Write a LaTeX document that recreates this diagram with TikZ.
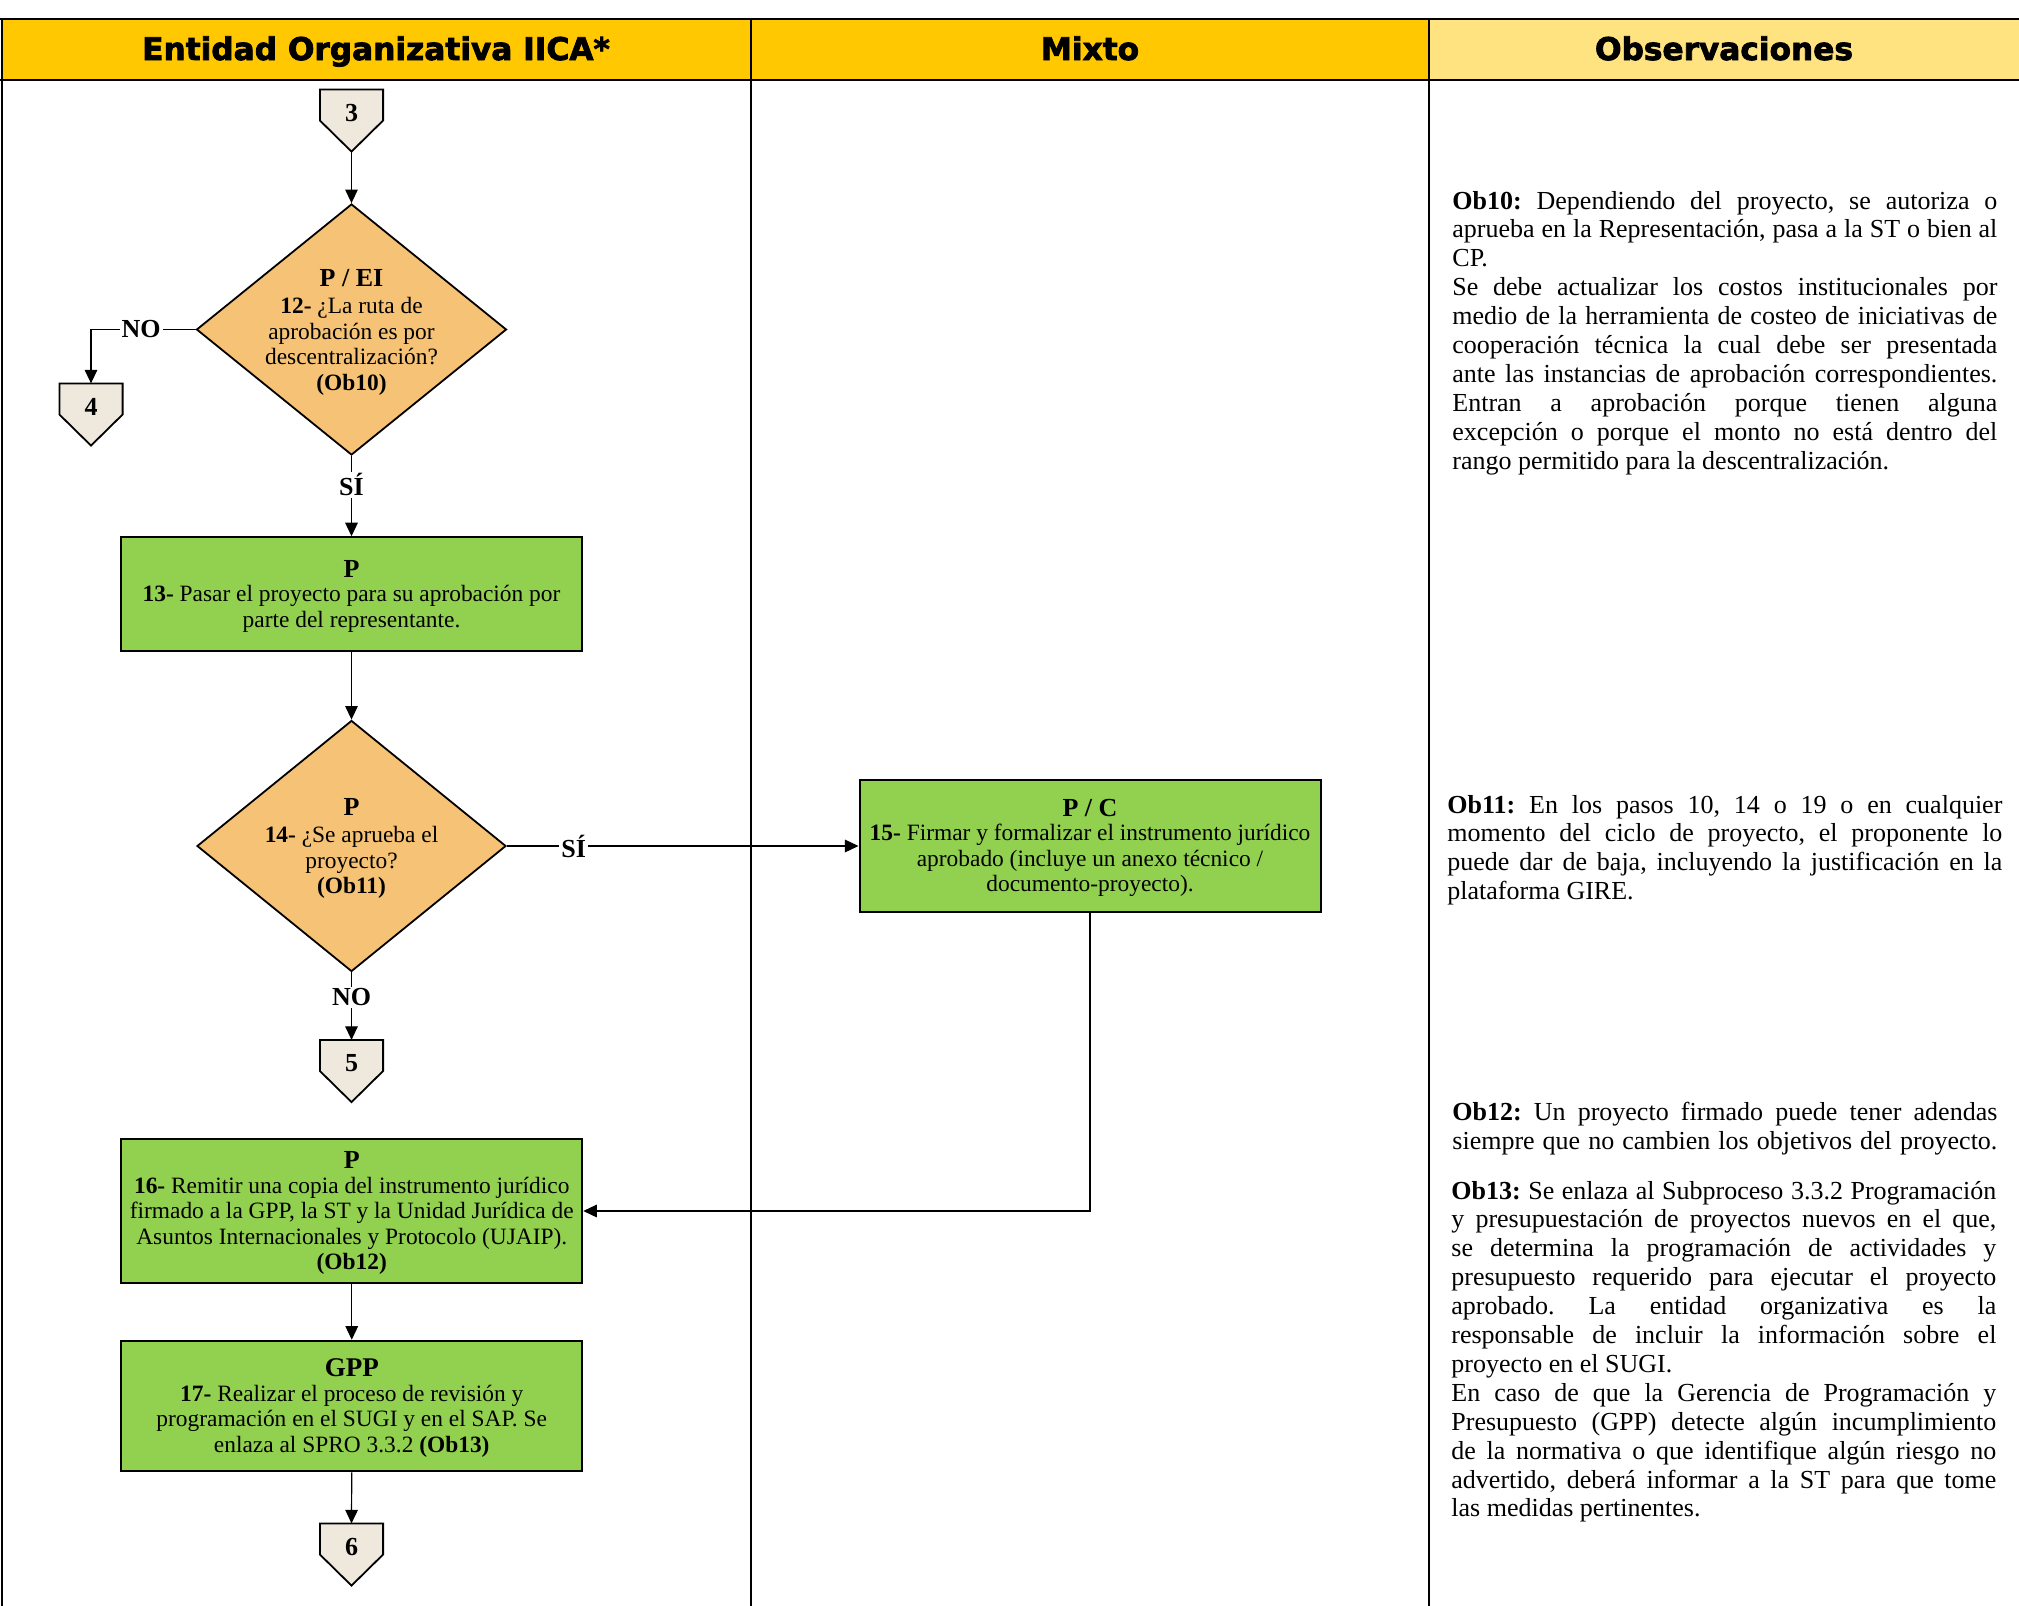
\documentclass[tikz,border=0pt]{standalone}
\usepackage{fontspec}
\setmainfont{Liberation Serif}
\newfontfamily\headfont{DejaVu Sans}[BoldFeatures={FakeBold=2.5}]
\usetikzlibrary{arrows.meta,shapes.geometric}
\pgfdeclarelayer{bg}
\pgfsetlayers{bg,main}
\newcommand\jline[2][272.5pt]{\makebox[#1][s]{\spaceskip=0pt\xspaceskip=0pt\frenchspacing #2}}
\newcommand\rline[1]{{\spaceskip=0pt\xspaceskip=0pt\frenchspacing #1}}
\definecolor{hdrgold}{HTML}{FFC800}
\definecolor{hdrlight}{HTML}{FFE381}
\definecolor{boxgreen}{HTML}{92D050}
\definecolor{decorange}{HTML}{F5C276}
\definecolor{connfill}{HTML}{EEE8DD}
\begin{document}
\begin{tikzpicture}[x=0.5pt,y=-0.5pt,
  line width=0.6pt,
  arr/.style={-{Triangle[length=6.8pt,width=6.3pt]}, line width=0.6pt},
  lab/.style={fill=white, inner sep=1pt, font=\fontsize{13}{14}\selectfont\bfseries},
  headtxt/.style={inner sep=0pt, anchor=base, font=\headfont\bfseries\fontsize{15.6}{18}\selectfont},
  procbox/.style={draw, line width=1pt, fill=boxgreen, minimum width=230.5pt, align=center, inner sep=0pt, font=\fontsize{11.7}{12.75}\selectfont},
  decis/.style={diamond, draw, line width=0.9pt, fill=decorange, inner sep=0pt},
  dtext/.style={align=center, inner sep=0pt, font=\fontsize{11.7}{12.75}\selectfont},
  conn/.style={minimum width=31pt, minimum height=30.5pt, inner sep=0pt},
  numtxt/.style={inner sep=0pt, font=\fontsize{13}{14}\selectfont\bfseries},
  obs/.style={anchor=north west, inner sep=0pt, align=left, font=\fontsize{13}{14.45}\selectfont},
]
\useasboundingbox (0,0) rectangle (2019,1606);
% header
\fill[hdrgold] (2,19) rectangle (1429,80);
\fill[hdrlight] (1429,19) rectangle (2019,80);
\node[headtxt] (h1) at (376,60) {Entidad Organizativa IICA*};
\node[headtxt] (h2) at (1090,60) {Mixto};
\node[headtxt] (h3) at (1724,60) {Observaciones};
\draw[line width=1.4pt] (0,19) -- (2019,19);
\draw[line width=1.3pt] (0,80) -- (2019,80);
\draw[line width=1pt] (2,19) -- (2,1606);
\draw[line width=0.9pt] (751,19) -- (751,1606);
\draw[line width=0.9pt] (1429,19) -- (1429,1606);

% connectors
\node[conn] (c3) at (351.5,120.5) {};
\node[conn] (c4) at (91,414.5) {};
\node[conn] (c5) at (351.5,1071) {};
\node[conn] (c6) at (351.5,1554.5) {};
\begin{pgfonlayer}{bg}
\foreach \c in {c3,c4,c5,c6}
  \draw[fill=connfill, line width=0.9pt] (\c.north west) -- (\c.north east) -- (\c.east) -- (\c.south) -- (\c.west) -- cycle;
\end{pgfonlayer}
\node[numtxt] at ([yshift=3.8pt]c3.center) {3};
\node[numtxt] at ([yshift=3.8pt]c4.center) {4};
\node[numtxt] at ([yshift=3.8pt]c5.center) {5};
\node[numtxt] at ([yshift=3.8pt]c6.center) {6};

% decisions
\node[decis, minimum width=155pt, minimum height=125.5pt] (d12) at (351.5,329.5) {};
\node[dtext] (t12) at ([yshift=-1.3pt]d12.center) {{\fontsize{13}{12.75}\selectfont\bfseries P / EI}\\[1pt]\textbf{12-} ¿La ruta de\\aprobación es por\\descentralización?\\\textbf{(Ob10)}};
\node[decis, minimum width=154.5pt, minimum height=125.5pt] (d14) at (351.5,846) {};
\node[dtext] (t14) at ([yshift=-1.3pt]d14.center) {{\fontsize{13}{12.75}\selectfont\bfseries P}\\[1pt]\textbf{14-} ¿Se aprueba el\\proyecto?\\\textbf{(Ob11)}};

% process boxes
\node[procbox, minimum height=56.75pt] (b13) at (351.5,594) {};
\node[procbox, minimum height=66pt] (b15) at (1090,846) {};
\node[procbox, minimum height=71.75pt] (b16) at (351.75,1211) {};
\node[procbox, minimum height=65.25pt] (b17) at (351.75,1406) {};
\node[dtext] (t13) at ([yshift=-1pt]b13.center) {{\fontsize{13}{12.75}\selectfont\bfseries P}\\[-0.5pt]\textbf{13-} Pasar el proyecto para su aprobación por\\parte del representante.};
\node[dtext] (t15) at ([yshift=-1pt]b15.center) {{\fontsize{13}{12.75}\selectfont\bfseries P / C}\\[-0.5pt]\textbf{15-} Firmar y formalizar el instrumento jurídico\\aprobado (incluye un anexo técnico /\\documento-proyecto).};
\node[dtext] (t16) at ([yshift=-1pt]b16.center) {{\fontsize{13}{12.75}\selectfont\bfseries P}\\[-0.5pt]\textbf{16-} Remitir una copia del instrumento jurídico\\firmado a la GPP, la ST y la Unidad Jurídica de\\Asuntos Internacionales y Protocolo (UJAIP).\\\textbf{(Ob12)}};
\node[dtext] (t17) at ([yshift=-1pt]b17.center) {{\fontsize{13.5}{12.75}\selectfont\bfseries GPP}\\[-0.5pt]\textbf{17-} Realizar el proceso de revisión y\\programación en el SUGI y en el SAP. Se\\enlaza al SPRO 3.3.2 \textbf{(Ob13)}};

% edges
\draw[arr] (c3.south) -- (d12.north);
\draw[arr] (d12.west) -| node[lab,pos=0.26]{NO} (c4.north);
\draw[arr] (d12.south) -- node[lab,pos=0.36]{SÍ} (b13.north);
\draw[arr] (b13.south) -- (d14.north);
\draw[arr] (d14.east) -- node[lab,pos=0.19]{SÍ} (b15.west);
\draw[arr] (d14.south) -- node[lab,pos=0.37]{NO} (c5.north);
\draw[arr] (b15.south) |- (b16.east);
\draw[arr] (b16.south) -- (b17.north);
\draw[arr] (b17.south) -- (c6.north);

% observations
\node[obs, text width=272.5pt] (ob10) at (1452,190.6) {%
\jline{\textbf{Ob10:} Dependiendo del proyecto, se autoriza o}\\
\jline{aprueba en la Representación, pasa a la ST o bien al}\\
\rline{CP.}\\
\jline{Se debe actualizar los costos institucionales por}\\
\jline{medio de la herramienta de costeo de iniciativas de}\\
\jline{cooperación técnica la cual debe ser presentada}\\
\jline{ante las instancias de aprobación correspondientes.}\\
\jline{Entran a aprobación porque tienen alguna}\\
\jline{excepción o porque el monto no está dentro del}\\
\rline{rango permitido para la descentralización.}};

\node[obs, text width=277.5pt] (ob11) at (1447,794.6) {%
\jline[277.5pt]{\textbf{Ob11:} En los pasos 10, 14 o 19 o en cualquier}\\
\jline[277.5pt]{momento del ciclo de proyecto, el proponente lo}\\
\jline[277.5pt]{puede dar de baja, incluyendo la justificación en la}\\
\rline{plataforma GIRE.}};

\node[obs, text width=272.5pt] (ob12) at (1452,1101.6) {%
\jline{\textbf{Ob12:} Un proyecto firmado puede tener adendas}\\
\jline{siempre que no cambien los objetivos del proyecto.}};

\node[obs, text width=272.5pt] (ob13) at (1451,1180.6) {%
\jline{\textbf{Ob13:} Se enlaza al Subproceso 3.3.2 Programación}\\
\jline{y presupuestación de proyectos nuevos en el que,}\\
\jline{se determina la programación de actividades y}\\
\jline{presupuesto requerido para ejecutar el proyecto}\\
\jline{aprobado. La entidad organizativa es la}\\
\jline{responsable de incluir la información sobre el}\\
\rline{proyecto en el SUGI.}\\
\jline{En caso de que la Gerencia de Programación y}\\
\jline{Presupuesto (GPP) detecte algún incumplimiento}\\
\jline{de la normativa o que identifique algún riesgo no}\\
\jline{advertido, deberá informar a la ST para que tome}\\
\rline{las medidas pertinentes.}};
\end{tikzpicture}
\end{document}
